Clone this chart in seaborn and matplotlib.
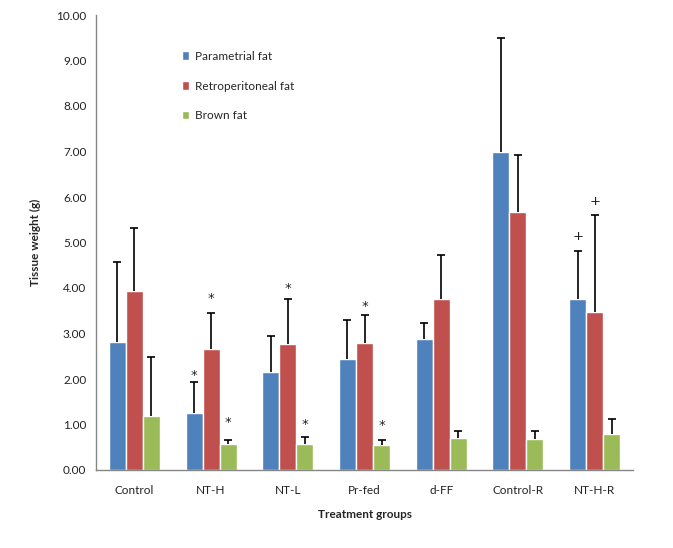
import numpy as np
import pandas as pd
import seaborn as sns
import matplotlib.pyplot as plt
from matplotlib.patches import Patch

# Data
groups = ['Control', 'NT-H', 'NT-L', 'Pr-fed', 'd-FF', 'Control-R', 'NT-H-R']
series = ['Parametrial fat', 'Retroperitoneal fat', 'Brown fat']
parametrial = [2.82, 1.26, 2.16, 2.43, 2.89, 7.00, 3.76]
retroperitoneal = [3.94, 2.65, 2.78, 2.80, 3.76, 5.68, 3.48]
brown = [1.19, 0.58, 0.58, 0.56, 0.71, 0.69, 0.80]
parametrial_sd = [1.75, 0.68, 0.79, 0.87, 0.34, 2.50, 1.06]
retroperitoneal_sd = [1.38, 0.80, 0.98, 0.61, 0.97, 1.25, 2.13]
brown_sd = [1.30, 0.08, 0.15, 0.09, 0.15, 0.17, 0.32]

# significance marks: (group index, series index, symbol, y)
marks = [(1, 0, '*', 2.20), (1, 1, '*', 3.89), (1, 2, '*', 1.16),
         (2, 1, '*', 4.10), (2, 2, '*', 1.12),
         (3, 1, '*', 3.71), (3, 2, '*', 1.09),
         (6, 0, '+', 5.15), (6, 1, '+', 5.92)]

colors = ['#4F81BD', '#C0504D', '#9BBB59']

df = pd.DataFrame({
    'group': groups * 3,
    'tissue': [s for s in series for _ in groups],
    'weight': parametrial + retroperitoneal + brown,
    'sd': parametrial_sd + retroperitoneal_sd + brown_sd,
})

sns.set_style('white')
plt.rcParams['font.family'] = ['Lato', 'DejaVu Sans']

fig = plt.figure(figsize=(6.73, 5.48), dpi=100)
ax = fig.add_axes([96 / 673, 78 / 548, 537 / 673, 455 / 548])

sns.barplot(data=df, x='group', y='weight', hue='tissue', order=groups,
            hue_order=series, palette=colors, width=0.665, saturation=1,
            errorbar=None, legend=False, ax=ax)

# one-sided (upper) error bars, cap only at the top
centers = {}
bar_containers = list(ax.containers)
for si, cont in enumerate(bar_containers):
    sub = df[df['tissue'] == series[si]]
    for gi, bar in enumerate(cont):
        xc = bar.get_x() + bar.get_width() / 2
        h = bar.get_height()
        centers[(gi, si)] = xc
        _, caps, _ = ax.errorbar(xc, h, yerr=[[0], [sub['sd'].iloc[gi]]], fmt='none',
                                 ecolor='black', elinewidth=1.2, capsize=3, capthick=1.2)
        for c in caps:
            if np.isclose(c.get_ydata()[0], h):
                c.set_visible(False)

for gi, si, sym, y in marks:
    off = 0.19 if sym == '*' else 0.1
    ax.text(centers[(gi, si)], y - off, sym, ha='center', va='baseline',
            fontsize=9.5, color='#222222', family='DejaVu Sans')

ax.set_ylim(0, 10)
ax.set_xlim(-0.5, len(groups) - 0.5)
ax.set_yticks(np.arange(0, 10.01, 1))
ax.set_yticklabels([f'{v:.2f}' for v in np.arange(0, 10.01, 1)])
ax.set_xticks(range(len(groups)))
ax.set_xticklabels(groups)
ax.set_xticks(np.arange(-0.5, len(groups), 1), minor=True)
ax.tick_params(axis='x', which='major', length=0, pad=11, labelsize=8.5, labelcolor='#222222')
ax.tick_params(axis='x', which='minor', length=4, color='#868686', direction='out')
ax.tick_params(axis='y', length=4, color='#868686', direction='out', labelsize=8.5,
               labelcolor='#222222', pad=3)

for side in ['top', 'right']:
    ax.spines[side].set_visible(False)
for side in ['left', 'bottom']:
    ax.spines[side].set_color('#868686')
    ax.spines[side].set_linewidth(1)

ax.set_xlabel('Treatment groups', fontweight='bold', fontsize=8.5, labelpad=9)
ax.set_ylabel('Tissue weight (g)', fontweight='bold', fontsize=8.5, labelpad=11)

handles = [Patch(facecolor=c, label=s) for c, s in zip(colors, series)]
ax.legend(handles=handles, loc='upper left', bbox_to_anchor=(0.14, 0.945),
          frameon=False, fontsize=8.5, handlelength=0.6, handleheight=0.7,
          handletextpad=0.5, labelspacing=1.6)

fig.savefig('out.png', dpi=100)
